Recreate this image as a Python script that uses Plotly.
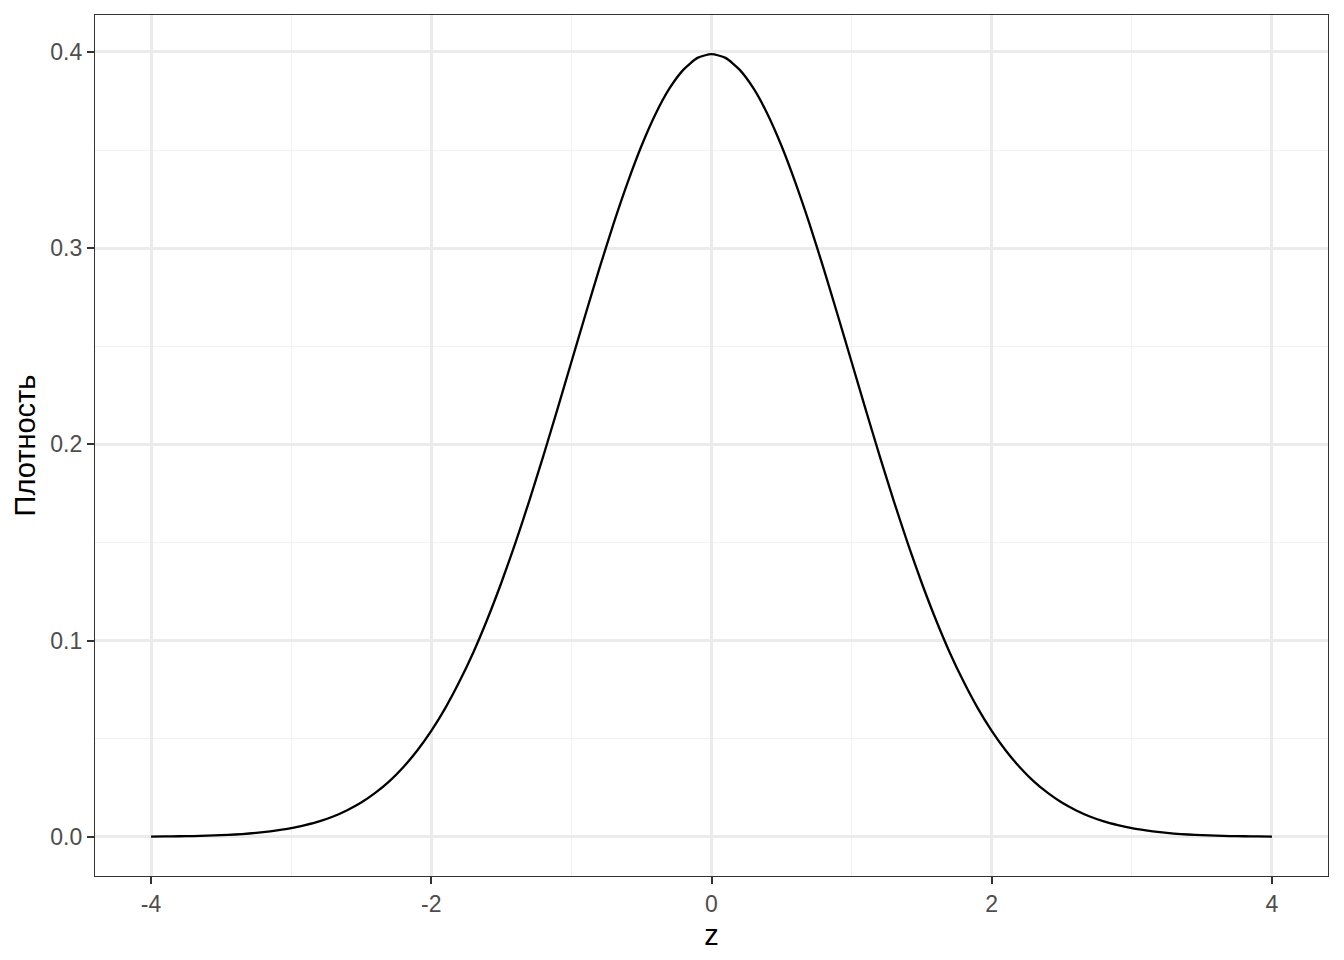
import plotly.graph_objects as go

z = [-4.0, -3.9, -3.8, -3.7, -3.6, -3.5, -3.4, -3.3, -3.2, -3.1, -3.0,
     -2.9, -2.8, -2.7, -2.6, -2.5, -2.4, -2.3, -2.2, -2.1, -2.0,
     -1.9, -1.8, -1.7, -1.6, -1.5, -1.4, -1.3, -1.2, -1.1, -1.0,
     -0.9, -0.8, -0.7, -0.6, -0.5, -0.4, -0.3, -0.2, -0.1, 0.0,
     0.1, 0.2, 0.3, 0.4, 0.5, 0.6, 0.7, 0.8, 0.9, 1.0,
     1.1, 1.2, 1.3, 1.4, 1.5, 1.6, 1.7, 1.8, 1.9, 2.0,
     2.1, 2.2, 2.3, 2.4, 2.5, 2.6, 2.7, 2.8, 2.9, 3.0,
     3.1, 3.2, 3.3, 3.4, 3.5, 3.6, 3.7, 3.8, 3.9, 4.0]
density = [0.0001, 0.0002, 0.0003, 0.0004, 0.0006, 0.0009, 0.0012, 0.0017, 0.0024, 0.0033, 0.0044,
           0.0060, 0.0079, 0.0104, 0.0136, 0.0175, 0.0224, 0.0283, 0.0355, 0.0440, 0.0540,
           0.0656, 0.0790, 0.0940, 0.1109, 0.1295, 0.1497, 0.1714, 0.1942, 0.2179, 0.2420,
           0.2661, 0.2897, 0.3123, 0.3332, 0.3521, 0.3683, 0.3814, 0.3910, 0.3970, 0.3989,
           0.3970, 0.3910, 0.3814, 0.3683, 0.3521, 0.3332, 0.3123, 0.2897, 0.2661, 0.2420,
           0.2179, 0.1942, 0.1714, 0.1497, 0.1295, 0.1109, 0.0940, 0.0790, 0.0656, 0.0540,
           0.0440, 0.0355, 0.0283, 0.0224, 0.0175, 0.0136, 0.0104, 0.0079, 0.0060, 0.0044,
           0.0033, 0.0024, 0.0017, 0.0012, 0.0009, 0.0006, 0.0004, 0.0003, 0.0002, 0.0001]
x_ticks = [-4, -2, 0, 2, 4]
x_labels = ["-4", "-2", "0", "2", "4"]
y_ticks = [0.0, 0.1, 0.2, 0.3, 0.4]
y_labels = ["0.0", "0.1", "0.2", "0.3", "0.4"]

fig = go.Figure(go.Scatter(x=z, y=density, mode="lines",
                           line=dict(color="black", width=2.3, shape="spline", smoothing=0.6),
                           showlegend=False))

axis_common = dict(showline=True, linecolor="#333333", linewidth=1.3, mirror=True,
                   ticks="outside", ticklen=7, tickwidth=2, tickcolor="#333333",
                   gridcolor="#EBEBEB", gridwidth=2.5, zeroline=False,
                   tickfont=dict(family="Liberation Sans, Arial", size=23, color="#4D4D4D"),
                   title_font=dict(family="Liberation Sans, Arial", size=29, color="black"))

fig.update_layout(
    width=1336, height=952,
    margin=dict(l=87, r=16, t=7, b=84),
    plot_bgcolor="white", paper_bgcolor="white",
    xaxis=dict(range=[-4.4, 4.4], tickvals=x_ticks, ticktext=x_labels, title_text="z",
               title_standoff=8,
               minor=dict(dtick=1, tick0=-5, showgrid=True, gridcolor="#F1F1F1", gridwidth=1.3, ticks=""),
               **axis_common),
    yaxis=dict(range=[-0.01995, 0.41885], tickvals=y_ticks, ticktext=y_labels, title_text="Плотность",
               title_standoff=6,
               minor=dict(dtick=0.1, tick0=0.05, showgrid=True, gridcolor="#F1F1F1", gridwidth=1.3, ticks=""),
               **axis_common),
)

fig.write_html("out.html")
